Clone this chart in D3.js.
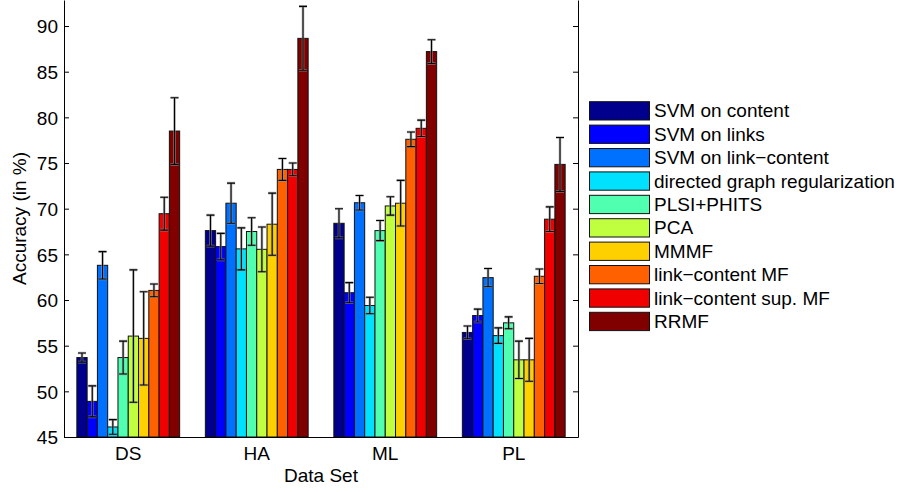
<!DOCTYPE html>
<html>
<head>
<meta charset="utf-8">
<script src="https://cdn.jsdelivr.net/npm/d3@7"></script>
<style>
  body { margin: 0; background: #fff; }
  svg { display: block; }
</style>
</head>
<body>
<div id="chart"></div>
<script>
// data
let groups = ['DS', 'HA', 'ML', 'PL']

let methods = [
  'SVM on content',
  'SVM on links',
  'SVM on link\u2212content',
  'directed graph regularization',
  'PLSI+PHITS',
  'PCA',
  'MMMF',
  'link\u2212content MF',
  'link\u2212content sup. MF',
  'RRMF'
]

let colors = ['#00008c', '#0000ff', '#0070ff', '#00e0ff', '#50ffb0',
  '#c0ff40', '#ffd000', '#ff6000', '#f00000', '#800000']

let dsMean = [53.7, 48.9, 63.8, 46.1, 53.7, 56.05, 55.8, 61.05, 69.45, 78.5]
let dsErr = [0.5, 1.7, 1.5, 0.8, 1.8, 7.25, 5.1, 0.7, 1.8, 3.65]
let haMean = [67.6, 65.85, 70.6, 65.6, 67.5, 65.55, 68.3, 74.3, 74.3, 88.65]
let haErr = [1.7, 1.45, 2.2, 2.3, 1.5, 2.45, 3.4, 1.2, 0.7, 3.5]
let mlMean = [68.4, 60.8, 70.65, 59.4, 67.6, 70.3, 70.6, 77.6, 78.8, 87.2]
let mlErr = [1.6, 1.1, 0.8, 0.9, 1.1, 1.0, 2.5, 0.8, 0.9, 1.3]
let plMean = [56.45, 58.3, 62.45, 56.1, 57.5, 53.45, 53.45, 62.6, 68.85, 74.85]
let plErr = [0.7, 0.7, 1.0, 0.85, 0.65, 2.05, 2.35, 0.8, 1.35, 2.95]

let yTicks = [45, 50, 55, 60, 65, 70, 75, 80, 85, 90]

let means = [dsMean, haMean, mlMean, plMean]
let errs = [dsErr, haErr, mlErr, plErr]

let font = "'Liberation Sans', Arial, Helvetica, sans-serif"

let margin = { top: 0, left: 64, right: 327, bottom: 55 }
let totalW = 905
let totalH = 492
let width = totalW - margin.left - margin.right
let height = totalH - margin.top - margin.bottom

let svg = d3.select('#chart')
  .append('svg')
  .attr('width', totalW)
  .attr('height', totalH)

let g = svg.append('g')
  .attr('transform', `translate(${margin.left},${margin.top})`)

// scales
let x0 = d3.scaleBand().domain(groups).range([0, width]).padding(0)
let x1 = d3.scaleBand().domain(d3.range(methods.length))
  .range([x0.bandwidth() * 0.1, x0.bandwidth() * 0.9]).padding(0)
let y = d3.scaleLinear().domain([45, 92.85]).range([height, 0])

// flatten into rows for drawing
let rows = []
groups.forEach((grp, gi) => {
  methods.forEach((m, mi) => {
    rows.push({ group: grp, idx: mi, mean: means[gi][mi], err: errs[gi][mi] })
  })
})

// bars
g.selectAll('.bar')
  .data(rows)
  .enter()
  .append('rect')
  .attr('class', 'bar')
  .attr('x', d => x0(d.group) + x1(d.idx))
  .attr('width', x1.bandwidth())
  .attr('y', d => y(d.mean))
  .attr('height', d => y(45) - y(d.mean))
  .attr('fill', d => colors[d.idx])
  .attr('stroke', '#111')
  .attr('stroke-width', 1)

// error bars, gray halo then black line
let cap = 4
let eb = g.selectAll('.err')
  .data(rows)
  .enter()
  .append('g')
  .attr('class', 'err')
  .attr('transform', d => `translate(${x0(d.group) + x1(d.idx) + x1.bandwidth() / 2},0)`)

;[['#999', 2.6, 0.7], ['#000', 1.1, 1]].forEach(([c, w, o]) => {
  eb.append('path')
    .attr('fill', 'none')
    .attr('stroke', c)
    .attr('stroke-width', w)
    .attr('stroke-opacity', o)
    .attr('d', d => {
      let t = y(d.mean + d.err)
      let b = y(d.mean - d.err)
      return `M0,${t}V${b}M${-cap},${t}H${cap}M${-cap},${b}H${cap}`
    })
})

// axes
let yAxis = g.append('g')
  .call(d3.axisLeft(y).tickValues(yTicks).tickSizeInner(-5).tickSizeOuter(0).tickPadding(6))
yAxis.attr('font-size', 19).attr('font-family', font)
yAxis.selectAll('text').attr('fill', '#000').attr('dy', '0.36em')
yAxis.selectAll('line, path').attr('stroke', '#000')

let rAxis = g.append('g')
  .attr('transform', `translate(${width},0)`)
  .call(d3.axisRight(y).tickValues(yTicks).tickSizeInner(-5).tickSizeOuter(0).tickFormat(''))
rAxis.selectAll('line, path').attr('stroke', '#000')

let xAxis = g.append('g')
  .attr('transform', `translate(0,${height})`)
  .call(d3.axisBottom(x0).tickSize(0).tickPadding(9.5))
xAxis.attr('font-size', 19).attr('font-family', font)
xAxis.selectAll('text').attr('fill', '#000')
xAxis.select('.domain').attr('stroke', '#000')

// axis titles
g.append('text')
  .text('Data Set')
  .attr('x', width / 2)
  .attr('y', height + 45)
  .attr('text-anchor', 'middle')
  .attr('font-size', 19)
  .attr('font-family', font)

svg.append('text')
  .text('Accuracy (in %)')
  .attr('transform', `translate(26,${margin.top + height / 2}) rotate(-90)`)
  .attr('text-anchor', 'middle')
  .attr('font-size', 19)
  .attr('font-family', font)

// legend
let legend = svg.append('g')
  .attr('transform', 'translate(589.5,101.7)')

let item = legend.selectAll('.item')
  .data(methods)
  .enter()
  .append('g')
  .attr('class', 'item')
  .attr('transform', (d, i) => `translate(0,${i * 23.4})`)

item.append('rect')
  .attr('width', 60)
  .attr('height', 18.3)
  .attr('fill', (d, i) => colors[i])
  .attr('stroke', '#111')
  .attr('stroke-width', 1)

item.append('text')
  .text(d => d)
  .attr('x', 64.5)
  .attr('y', 15.6)
  .attr('font-size', 19)
  .attr('font-family', font)
</script>
</body>
</html>
